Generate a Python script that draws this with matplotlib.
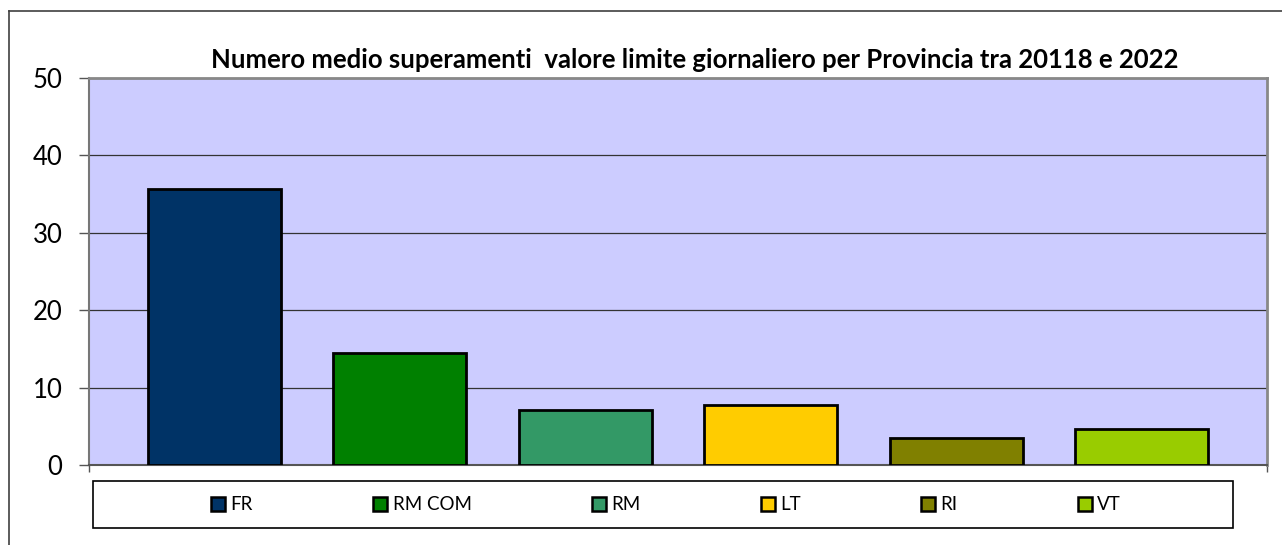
import matplotlib
matplotlib.use("Agg")
import matplotlib.pyplot as plt
from matplotlib.patches import Patch, Rectangle
from matplotlib.lines import Line2D

province = ["FR", "RM COM", "RM", "LT", "RI", "VT"]
superamenti = [35.7, 14.5, 7.1, 7.8, 3.5, 4.6]
colori = ["#003366", "#008000", "#339966", "#FFCC00", "#808000", "#99CC00"]
y_ticks = [0, 10, 20, 30, 40, 50]

TITOLO = "Numero medio superamenti  valore limite giornaliero per Provincia tra 20118 e 2022"

plt.rcParams["font.family"] = ["Lato", "DejaVu Sans"]

W, H = 1282, 545
fig = plt.figure(figsize=(W / 100, H / 100), dpi=100)
fig.patch.set_facecolor("white")

# area del grafico in pixel: x 89-1267, y 78-465
ax = fig.add_axes([89 / W, 1 - 465 / H, (1267 - 89) / W, (465 - 78) / H])
ax.set_facecolor("#CCCCFF")

x = range(len(province))
ax.bar(x, superamenti, width=0.717, color=colori, edgecolor="black",
       linewidth=2, zorder=3)

ax.set_xlim(-0.675, 5.675)
ax.set_ylim(0, 50)
ax.set_yticks(y_ticks)
ax.set_yticklabels([str(v) for v in y_ticks], fontsize=18.5)
ax.yaxis.grid(True, color="#333333", linewidth=0.9, zorder=0)
ax.set_axisbelow(True)

ax.set_xticks([-0.675, 5.675])
ax.set_xticklabels(["", ""])
ax.tick_params(axis="x", direction="out", length=5, color="#555555", width=1)
ax.tick_params(axis="y", direction="out", length=7, color="#555555", width=1,
               pad=12)

for lato in ["top", "right"]:
    ax.spines[lato].set_color("#888888")
    ax.spines[lato].set_linewidth(2)
ax.spines["left"].set_color("#777777")
ax.spines["left"].set_linewidth(1.5)
ax.spines["bottom"].set_color("#555555")
ax.spines["bottom"].set_linewidth(1.5)

fig.text(695 / W, 1 - 60 / H, TITOLO, ha="center", va="center",
         fontsize=18.5, fontweight="bold")

# riquadro legenda
fig.add_artist(Rectangle((93 / W, 1 - 528 / H), (1233 - 93) / W, (528 - 481) / H,
                         transform=fig.transFigure, facecolor="white",
                         edgecolor="black", linewidth=1.2))
handles = [Patch(facecolor=c, edgecolor="black", linewidth=1.8) for c in colori]
fig.legend(handles, province, loc="center", bbox_to_anchor=(666 / W, 1 - 505 / H),
           ncol=6, frameon=False, fontsize=13.5, handlelength=0.75,
           handleheight=0.75, handletextpad=0.3, columnspacing=6.4)

# bordo esterno
fig.add_artist(Line2D([9 / W, 9 / W], [0, 1 - 11 / H], transform=fig.transFigure,
                      color="#404040", linewidth=1.2))
fig.add_artist(Line2D([9 / W, 1], [1 - 11 / H, 1 - 11 / H], transform=fig.transFigure,
                      color="#404040", linewidth=1.2))

fig.savefig("out.png", dpi=100)
